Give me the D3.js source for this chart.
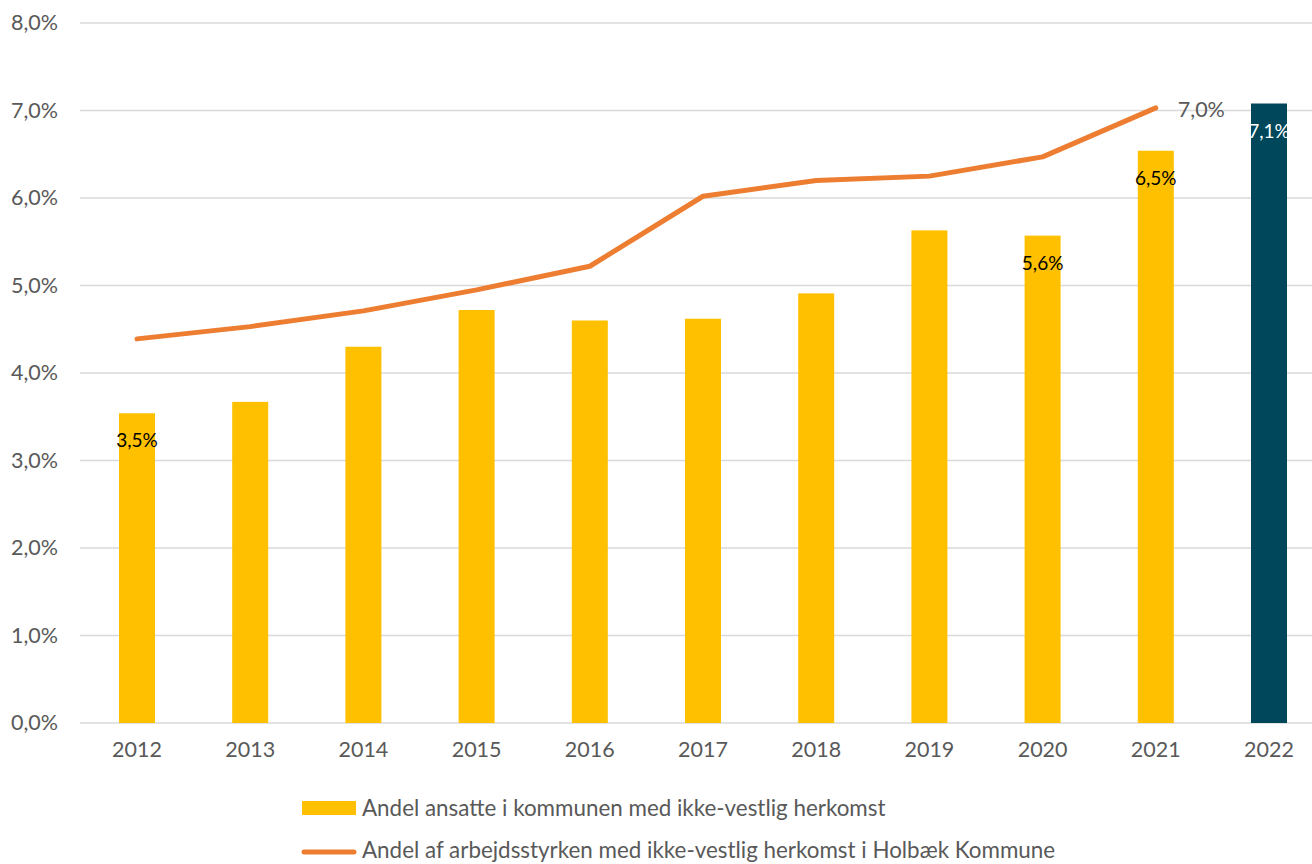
<!DOCTYPE html>
<html>
<head>
<meta charset="utf-8">
<script src="https://cdn.jsdelivr.net/npm/d3@7"></script>
<style>
  html, body { margin: 0; padding: 0; background: #fff; }
  svg { display: block; font-family: Lato, "Open Sans", sans-serif; }
</style>
</head>
<body>
<svg id="chart" width="1312" height="864"></svg>
<script>
// Years on the x axis
const years = ["2012","2013","2014","2015","2016","2017","2018","2019","2020","2021","2022"];
// Share of municipal employees with non-western background (%)
const employeeShare = [3.54, 3.67, 4.30, 4.72, 4.60, 4.62, 4.91, 5.63, 5.57, 6.54, 7.08];
// Share of the labour force with non-western background in Holbæk Kommune (%), 2012-2021
const labourYears = ["2012","2013","2014","2015","2016","2017","2018","2019","2020","2021"];
const labourShare = [4.39, 4.53, 4.71, 4.95, 5.22, 6.02, 6.20, 6.25, 6.47, 7.03];
// Bars that carry a value label
const labelledYears = ["2012","2020","2021","2022"];
// Y axis ticks
const yTicks = [0, 1, 2, 3, 4, 5, 6, 7, 8];
// Legend entries
const seriesNames = [
  "Andel ansatte i kommunen med ikke-vestlig herkomst",
  "Andel af arbejdsstyrken med ikke-vestlig herkomst i Holbæk Kommune"
];

const fmt = v => v.toFixed(1).replace(".", ",") + "%";

const svg = d3.select("#chart");
const plot = { left: 80.4, right: 1325.6, top: 23, bottom: 723 };

const x = d3.scaleBand().domain(years).range([plot.left, plot.right]).paddingInner(0.682).paddingOuter(0.341);
const y = d3.scaleLinear().domain([0, 8]).range([plot.bottom, plot.top]);

// Gridlines
svg.append("g").selectAll("line").data(yTicks).join("line")
  .attr("x1", 80).attr("x2", 1312)
  .attr("y1", d => y(d)).attr("y2", d => y(d))
  .attr("stroke", "#d9d9d9").attr("stroke-width", 1.5);

// Y axis labels
const yAxis = d3.axisLeft(y).tickValues(yTicks).tickFormat(fmt).tickSize(0).tickPadding(0);
const gy = svg.append("g").attr("transform", "translate(58,0)").call(yAxis);
gy.select(".domain").remove();
gy.selectAll("text").attr("fill", "#595959").style("font-size", "21.5px").style("font-family", "Lato, sans-serif");

// X axis labels
const xAxis = d3.axisBottom(x).tickSize(0).tickPadding(0);
const gx = svg.append("g").attr("transform", "translate(0,742)").call(xAxis);
gx.select(".domain").remove();
gx.selectAll("text").attr("fill", "#595959").style("font-size", "21.5px").style("font-family", "Lato, sans-serif");

// Bars
const barColor = d => d === "2022" ? "#00475b" : "#ffc000";
const bars = years.map((yr, i) => ({ yr, v: employeeShare[i] }));
svg.append("g").selectAll("rect").data(bars).join("rect")
  .attr("x", d => x(d.yr)).attr("width", x.bandwidth())
  .attr("y", d => y(d.v)).attr("height", d => y(0) - y(d.v))
  .attr("fill", d => barColor(d.yr));

// Bar value labels
svg.append("g").selectAll("text").data(bars.filter(d => labelledYears.includes(d.yr))).join("text")
  .attr("x", d => x(d.yr) + x.bandwidth() / 2)
  .attr("y", d => y(d.v) + 34)
  .attr("text-anchor", "middle")
  .attr("fill", d => d.yr === "2022" ? "#ffffff" : "#000000")
  .style("font-size", "19px")
  .text(d => fmt(d.v));

// Line
const pts = labourYears.map((yr, i) => ({ yr, v: labourShare[i] }));
const line = d3.line().x(d => x(d.yr) + x.bandwidth() / 2).y(d => y(d.v));
svg.append("path").datum(pts)
  .attr("d", line).attr("fill", "none")
  .attr("stroke", "#ed7d31").attr("stroke-width", 5)
  .attr("stroke-linecap", "round").attr("stroke-linejoin", "round");

// Line end label
const last = pts[pts.length - 1];
svg.append("text")
  .attr("x", x(last.yr) + x.bandwidth() / 2 + 22)
  .attr("y", y(last.v) + 9)
  .attr("fill", "#595959").style("font-size", "21.5px")
  .text(fmt(last.v));

// Legend
const lg = svg.append("g");
lg.append("rect").attr("x", 302).attr("y", 801).attr("width", 54).attr("height", 14).attr("fill", "#ffc000");
lg.append("text").attr("x", 362).attr("y", 816).attr("fill", "#595959").style("font-size", "22.4px").text(seriesNames[0]);
lg.append("line").attr("x1", 304).attr("x2", 354).attr("y1", 852).attr("y2", 852)
  .attr("stroke", "#ed7d31").attr("stroke-width", 5).attr("stroke-linecap", "round");
lg.append("text").attr("x", 362).attr("y", 858).attr("fill", "#595959").style("font-size", "22.4px").text(seriesNames[1]);
</script>
</body>
</html>
